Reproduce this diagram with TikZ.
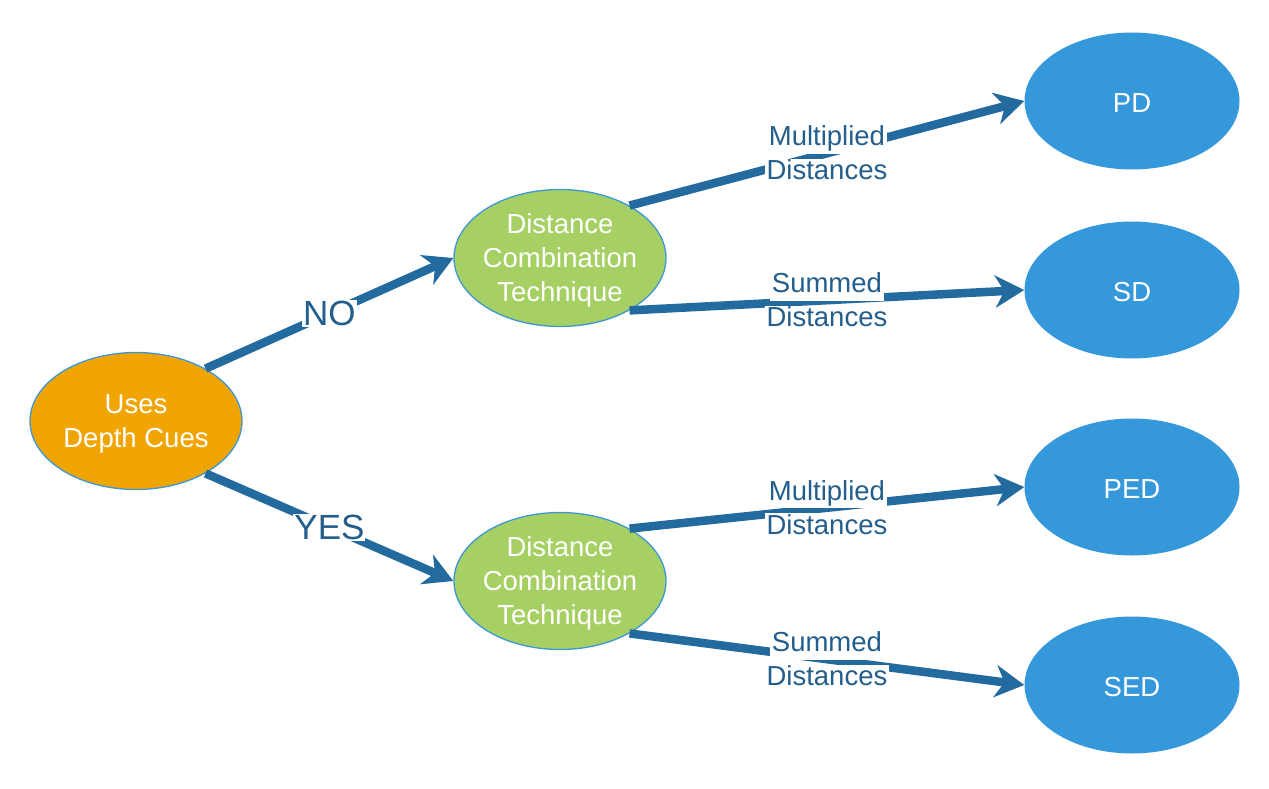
\documentclass[tikz,border=0pt]{standalone}
\usepackage{fontspec}
\setmainfont{Liberation Sans}
\usetikzlibrary{shapes.geometric,arrows.meta}
\definecolor{orng}{HTML}{F0A502}
\definecolor{grn}{HTML}{A6D064}
\definecolor{blu}{HTML}{3598DB}
\definecolor{edge}{HTML}{3C97D9}
\definecolor{arr}{HTML}{236B9E}
\definecolor{lbl}{HTML}{235E8C}
\begin{document}
\begin{tikzpicture}[x=1pt,y=-1pt,
  ell/.style={ellipse, inner sep=0pt, minimum width=212pt, minimum height=137pt},
  ornode/.style={ell, fill=orng, draw=edge, line width=1.3pt},
  grnode/.style={ell, fill=grn, draw=edge, line width=1.3pt},
  blnode/.style={ell, fill=blu, minimum width=215pt},
  wtxt/.style={text=white, align=center, inner sep=0pt, yshift=-2.5pt, font=\fontsize{27.5}{34}\selectfont},
  conn/.style={draw=arr, line width=8.5pt, -{Stealth[length=29pt, width=32pt, inset=9pt]}},
  big/.style={fill=white, text=lbl, inner sep=1pt, font=\fontsize{35}{40}\selectfont},
  lt/.style={fill=white, text=lbl, inner xsep=2pt, inner ysep=0pt, text height=21pt, text depth=8pt, font=\fontsize{27.5}{34}\selectfont}
]
\useasboundingbox (0,0) rectangle (1269,789);

\node[ornode] (uses) at (136,421) {};
\node[wtxt] (usest) at (uses) {Uses\\Depth Cues};
\node[grnode] (dct1) at (560,258) {};
\node[wtxt] (dct1t) at (dct1) {Distance\\Combination\\Technique};
\node[grnode] (dct2) at (560,581) {};
\node[wtxt] (dct2t) at (dct2) {Distance\\Combination\\Technique};

\node[blnode] (pd) at (1132,101) {};
\node[wtxt] (pdt) at (pd) {PD};
\node[blnode] (sd) at (1132,290) {};
\node[wtxt] (sdt) at (sd) {SD};
\node[blnode] (ped) at (1132,487) {};
\node[wtxt] (pedt) at (ped) {PED};
\node[blnode] (sed) at (1132,685) {};
\node[wtxt] (sedt) at (sed) {SED};

\draw[conn] (uses.37) -- (dct1.west) node[pos=.5, big] (no) {NO};
\draw[conn] (uses.-37) -- (dct2.west) node[pos=.5, big] (yes) {YES};

\draw[conn] (dct1.37) -- (pd.west)
  node[pos=.5, lt, anchor=base, yshift=7.5pt] (l1a) {Multiplied}
  node[pos=.5, lt, anchor=base, yshift=-26.5pt] (l1b) {Distances};
\draw[conn] (dct1.-37) -- (sd.west)
  node[pos=.5, lt, anchor=base, yshift=7.5pt] (l2a) {Summed}
  node[pos=.5, lt, anchor=base, yshift=-26.5pt] (l2b) {Distances};
\draw[conn] (dct2.37) -- (ped.west)
  node[pos=.5, lt, anchor=base, yshift=7.5pt] (l3a) {Multiplied}
  node[pos=.5, lt, anchor=base, yshift=-26.5pt] (l3b) {Distances};
\draw[conn] (dct2.-37) -- (sed.west)
  node[pos=.5, lt, anchor=base, yshift=7.5pt] (l4a) {Summed}
  node[pos=.5, lt, anchor=base, yshift=-26.5pt] (l4b) {Distances};
\end{tikzpicture}
\end{document}
